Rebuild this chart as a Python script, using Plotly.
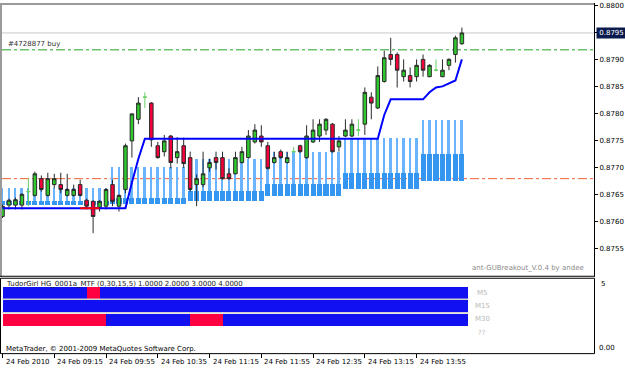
import plotly.graph_objects as go
import pandas as pd

# ---------------- data ----------------
bar_times = pd.date_range("2010-02-24 08:35", periods=72, freq="5min")

opens = [0.87610, 0.87631, 0.87631, 0.87631, 0.87656, 0.87649, 0.87680, 0.87649, 0.87669, 0.87669,
         0.87649, 0.87649, 0.87669, 0.87640, 0.87638, 0.87627, 0.87629, 0.87669, 0.87629, 0.87660,
         0.87750, 0.87790, 0.87831, 0.87820, 0.87741, 0.87730, 0.87759, 0.87719, 0.87741, 0.87719,
         0.87669, 0.87669, 0.87700, 0.87719, 0.87719, 0.87689, 0.87689, 0.87710, 0.87719, 0.87748,
         0.87759, 0.87741, 0.87710, 0.87730, 0.87710, 0.87730, 0.87741, 0.87719, 0.87748, 0.87759,
         0.87770, 0.87781, 0.87739, 0.87759, 0.87759, 0.87770, 0.87781, 0.87831, 0.87811, 0.87860,
         0.87910, 0.87910, 0.87869, 0.87871, 0.87869, 0.87901, 0.87869, 0.87881, 0.87869, 0.87890,
         0.87910, 0.87930]
highs = [0.87632, 0.87643, 0.87645, 0.87653, 0.87680, 0.87693, 0.87686, 0.87691, 0.87689, 0.87691,
         0.87689, 0.87669, 0.87678, 0.87643, 0.87640, 0.87640, 0.87662, 0.87678, 0.87651, 0.87745,
         0.87801, 0.87831, 0.87840, 0.87822, 0.87748, 0.87761, 0.87761, 0.87757, 0.87756, 0.87730,
         0.87688, 0.87730, 0.87717, 0.87730, 0.87730, 0.87699, 0.87730, 0.87739, 0.87770, 0.87781,
         0.87779, 0.87748, 0.87730, 0.87734, 0.87730, 0.87739, 0.87743, 0.87779, 0.87790, 0.87790,
         0.87792, 0.87783, 0.87759, 0.87790, 0.87790, 0.87790, 0.87849, 0.87840, 0.87888, 0.87917,
         0.87941, 0.87914, 0.87901, 0.87886, 0.87901, 0.87910, 0.87892, 0.87901, 0.87901, 0.87903,
         0.87945, 0.87960]
lows = [0.87607, 0.87623, 0.87623, 0.87623, 0.87629, 0.87647, 0.87656, 0.87647, 0.87662, 0.87653,
        0.87647, 0.87647, 0.87647, 0.87623, 0.87579, 0.87619, 0.87623, 0.87629, 0.87619, 0.87653,
        0.87719, 0.87781, 0.87811, 0.87739, 0.87717, 0.87721, 0.87699, 0.87708, 0.87700, 0.87656,
        0.87629, 0.87664, 0.87693, 0.87697, 0.87678, 0.87678, 0.87688, 0.87708, 0.87717, 0.87745,
        0.87739, 0.87697, 0.87708, 0.87717, 0.87708, 0.87728, 0.87728, 0.87717, 0.87746, 0.87748,
        0.87761, 0.87728, 0.87730, 0.87757, 0.87757, 0.87759, 0.87761, 0.87790, 0.87809, 0.87858,
        0.87890, 0.87849, 0.87860, 0.87849, 0.87860, 0.87869, 0.87868, 0.87879, 0.87868, 0.87881,
        0.87895, 0.87928]
closes = [0.87629, 0.87640, 0.87641, 0.87651, 0.87656, 0.87689, 0.87660, 0.87680, 0.87680, 0.87660,
          0.87660, 0.87660, 0.87649, 0.87629, 0.87610, 0.87638, 0.87660, 0.87638, 0.87649, 0.87741,
          0.87800, 0.87820, 0.87831, 0.87752, 0.87719, 0.87750, 0.87710, 0.87730, 0.87708, 0.87660,
          0.87680, 0.87689, 0.87710, 0.87710, 0.87680, 0.87680, 0.87719, 0.87730, 0.87759, 0.87770,
          0.87748, 0.87699, 0.87719, 0.87719, 0.87719, 0.87730, 0.87730, 0.87759, 0.87770, 0.87781,
          0.87790, 0.87730, 0.87750, 0.87770, 0.87781, 0.87770, 0.87840, 0.87820, 0.87871, 0.87904,
          0.87901, 0.87881, 0.87881, 0.87860, 0.87890, 0.87881, 0.87890, 0.87881, 0.87881, 0.87901,
          0.87941, 0.87950]

# breakout line (blue) and its red section
breakout_line = ([0.87625] * 20 + [0.87673, 0.87717] + [0.87754] * 37 + [0.87798] +
                 [0.87827] * 6 + [0.87840, 0.87849, 0.87851, 0.87857, 0.87862, 0.87901])
red_section = [None] * 12 + [0.87625] * 4 + [None] * 56

# level histogram (thin top, block top, block bottom)
hist_top = ([0.87662] * 17 + [0.87702] * 12 + [0.87717] * 12 + [0.87730] * 12 +
            [0.87756] * 12 + [0.87789] * 7)
block_top = ([0.87638] * 17 + [0.87645] * 12 + [0.87658] * 12 + [0.87671] * 12 +
             [0.87691] * 12 + [0.87726] * 7)
block_bot = ([0.87631] * 17 + [0.87634] * 12 + [0.87638] * 12 + [0.87647] * 12 +
             [0.87660] * 12 + [0.87675] * 7)

buy_level = 0.87919
stop_level = 0.87680
bid_level = 0.8795

# MTF indicator states (R = red, B = blue)
m5_state = ["B"] * 13 + ["R"] * 2 + ["B"] * 57
m15_state = ["B"] * 72
m30_state = ["R"] * 16 + ["B"] * 13 + ["R"] * 5 + ["B"] * 38
row_names = ["M5", "M15", "M30", "??"]
row_levels = [4, 3, 2, 1]

price_ticks = [0.8755, 0.8760, 0.8765, 0.8770, 0.8775, 0.8780, 0.8785, 0.8790, 0.8795, 0.8800]
price_tick_text = ["0.8755", "0.8760", "0.8765", "0.8770", "0.8775", "0.8780", "0.8785",
                   "0.8790", "0.8795", "0.8800"]
time_tick_times = ["08:35", "09:15", "09:55", "10:35", "11:15", "11:55", "12:35", "13:15", "13:55"]
time_tick_text = ["24 Feb 2010", "24 Feb 09:15", "24 Feb 09:55", "24 Feb 10:35", "24 Feb 11:15",
                  "24 Feb 11:55", "24 Feb 12:35", "24 Feb 13:15", "24 Feb 13:55"]

# ---------------- figure ----------------
W, H = 625, 369
FONT = "DejaVu Sans"


def px(x):
    return x / W


def py(y):
    return 1 - y / H


idx = list(range(len(opens)))
time_labels = [t.strftime("%H:%M") for t in bar_times]
tick_idx = [time_labels.index(t) for t in time_tick_times]

is_doji = [o == c for o, c in zip(opens, closes)]

GREEN = "#2ec82e"
RED = "#f5003a"
BLUE_BLOCK = "#3596f2"
BLUE_THIN = "#6ab4ff"

fig = go.Figure()

# histogram: thin lines
fig.add_trace(go.Bar(
    x=idx, base=block_bot, y=[t - b for t, b in zip(hist_top, block_bot)],
    width=0.3, marker=dict(color=BLUE_THIN, line=dict(width=0)),
    xaxis="x", yaxis="y", showlegend=False, hoverinfo="skip"))
# histogram: blocks
fig.add_trace(go.Bar(
    x=idx, base=block_bot, y=[t - b for t, b in zip(block_top, block_bot)],
    width=0.78, marker=dict(color=BLUE_BLOCK, line=dict(width=0)),
    xaxis="x", yaxis="y", showlegend=False, hoverinfo="skip"))


def pick(vals, keep):
    return [v if k else None for v, k in zip(vals, keep)]


not_doji = [not d for d in is_doji]
fig.add_trace(go.Candlestick(
    x=idx, open=pick(opens, not_doji), high=pick(highs, not_doji),
    low=pick(lows, not_doji), close=pick(closes, not_doji),
    increasing=dict(fillcolor=GREEN, line=dict(color="#2a2a2a", width=1)),
    decreasing=dict(fillcolor=RED, line=dict(color="#2a2a2a", width=1)),
    whiskerwidth=0, xaxis="x", yaxis="y", showlegend=False, hoverinfo="skip"))
fig.add_trace(go.Candlestick(
    x=idx, open=pick(opens, is_doji), high=pick(highs, is_doji),
    low=pick(lows, is_doji), close=pick(closes, is_doji),
    increasing=dict(fillcolor="#66d066", line=dict(color="#66d066", width=1)),
    decreasing=dict(fillcolor="#66d066", line=dict(color="#66d066", width=1)),
    whiskerwidth=0, xaxis="x", yaxis="y", showlegend=False, hoverinfo="skip"))

# breakout line
fig.add_trace(go.Scatter(x=idx, y=breakout_line, mode="lines",
                         line=dict(color="#0000ff", width=2), xaxis="x", yaxis="y",
                         showlegend=False, hoverinfo="skip"))
fig.add_trace(go.Scatter(x=idx, y=red_section, mode="lines",
                         line=dict(color="#ff0000", width=2), xaxis="x", yaxis="y",
                         showlegend=False, hoverinfo="skip"))

# MTF indicator rows
state_color = {"R": "#ff0040", "B": "#1010f0"}
for states, lvl in zip([m5_state, m15_state, m30_state], row_levels[:3]):
    fig.add_trace(go.Bar(
        x=idx, y=[0.9] * len(idx), base=[lvl - 0.45] * len(idx), width=1, offset=0,
        marker=dict(color=[state_color[s] for s in states], line=dict(width=0)),
        xaxis="x2", yaxis="y2", showlegend=False, hoverinfo="skip"))

xrange_ = [-0.08, 91.42]

annotations = []
for ti, tt in zip(tick_idx, time_tick_text):
    annotations.append(dict(x=ti, xref="x2", y=py(362), yref="paper", text=tt,
                            xanchor="left", yanchor="middle", xshift=1, showarrow=False,
                            font=dict(family=FONT, size=7, color="#000000")))
for name, lvl in zip(row_names, row_levels):
    annotations.append(dict(x=px(482), xref="paper", y=lvl, yref="y2", text=name,
                            xanchor="center", yanchor="middle", showarrow=False,
                            font=dict(family=FONT, size=7, color="#b8b8b8")))
annotations += [
    dict(x=px(6), xref="paper", y=buy_level, yref="y", yshift=6, text="#4728877 buy",
         xanchor="left", yanchor="middle", showarrow=False,
         font=dict(family=FONT, size=7, color="#303030")),
    dict(x=px(586), xref="paper", y=py(267), yref="paper", text="ant-GUBreakout_V.0.4 by andee",
         xanchor="right", yanchor="middle", showarrow=False,
         font=dict(family=FONT, size=7, color="#8a8a8a")),
    dict(x=px(4), xref="paper", y=py(283), yref="paper",
         text="TudorGirl HG_0001a_MTF (0,30,15,5) 1.0000 2.0000 3.0000 4.0000",
         xanchor="left", yanchor="middle", showarrow=False,
         font=dict(family=FONT, size=7, color="#202020")),
    dict(x=px(4), xref="paper", y=py(349), yref="paper",
         text="MetaTrader, © 2001-2009 MetaQuotes Software Corp.",
         xanchor="left", yanchor="middle", showarrow=False,
         font=dict(family=FONT, size=7, color="#000000")),
    dict(x=px(599), xref="paper", y=py(283), yref="paper", text="5",
         xanchor="left", yanchor="middle", showarrow=False,
         font=dict(family=FONT, size=7, color="#000000")),
    dict(x=px(597), xref="paper", y=py(348), yref="paper", text="0.00",
         xanchor="left", yanchor="middle", showarrow=False,
         font=dict(family=FONT, size=7, color="#000000")),
    dict(x=px(596), xref="paper", y=bid_level, yref="y", text="0.8795",
         xanchor="left", yanchor="middle", showarrow=False, bgcolor="#0b1a4e",
         borderpad=1, width=27, font=dict(family=FONT, size=7, color="#ffffff")),
]

shapes = [
    # price levels
    dict(type="line", xref="x domain", x0=0, x1=1, yref="y", y0=bid_level, y1=bid_level,
         line=dict(color="#c8c8c8", width=1), layer="below"),
    dict(type="line", xref="x domain", x0=0, x1=1, yref="y", y0=buy_level, y1=buy_level,
         line=dict(color="#6cbf6c", width=1.5, dash="dashdot"), layer="below"),
    dict(type="line", xref="x domain", x0=0, x1=1, yref="y", y0=stop_level, y1=stop_level,
         line=dict(color="#f06030", width=1, dash="dashdot"), layer="below"),
    # frames
    dict(type="line", xref="paper", yref="paper", x0=px(1), x1=px(1), y0=py(0), y1=py(276),
         line=dict(color="#9a9a9a", width=2)),
    dict(type="line", xref="paper", yref="paper", x0=px(0), x1=px(595), y0=py(1), y1=py(1),
         line=dict(color="#9a9a9a", width=2)),
    dict(type="line", xref="paper", yref="paper", x0=px(594.5), x1=px(594.5), y0=py(0), y1=py(276),
         line=dict(color="#000000", width=1)),
    dict(type="line", xref="paper", yref="paper", x0=px(0), x1=px(595), y0=py(275.5), y1=py(275.5),
         line=dict(color="#000000", width=1)),
    dict(type="rect", xref="paper", yref="paper", x0=px(0.5), x1=px(594.5), y0=py(277.5), y1=py(353.5),
         line=dict(color="#000000", width=1)),
    # light separators between indicator rows
    dict(type="line", xref="x2", yref="y2", x0=0, x1=len(idx), y0=3.5, y1=3.5,
         line=dict(color="#d0d0d0", width=1.5)),
    dict(type="line", xref="x2", yref="y2", x0=0, x1=len(idx), y0=2.5, y1=2.5,
         line=dict(color="#d0d0d0", width=1.5)),
]

fig.update_layout(
    width=W, height=H, margin=dict(l=0, r=0, t=0, b=0),
    paper_bgcolor="#ffffff", plot_bgcolor="#ffffff",
    barmode="overlay", bargap=0, boxgap=0.22,
    showlegend=False,
    xaxis=dict(domain=[px(2), px(594)], range=xrange_, showgrid=False, zeroline=False,
               showticklabels=False, ticks="", rangeslider=dict(visible=False), anchor="y"),
    yaxis=dict(domain=[py(275), py(2)], range=[0.875001, 0.880018], side="right",
               showgrid=False, zeroline=False, tickvals=price_ticks, ticktext=price_tick_text,
               ticks="outside", ticklen=3, tickcolor="#000000", anchor="x",
               ticklabeloverflow="allow",
               tickfont=dict(family=FONT, size=7, color="#000000")),
    xaxis2=dict(domain=[px(2), px(594)], range=xrange_, showgrid=False, zeroline=False,
                tickvals=tick_idx, showticklabels=False, ticks="outside", ticklen=4,
                tickcolor="#000000", anchor="y2", rangeslider=dict(visible=False)),
    yaxis2=dict(domain=[py(353), py(277)], range=[-0.519, 5.111], side="right",
                showgrid=False, zeroline=False, showticklabels=False, ticks="", anchor="x2"),
    annotations=annotations, shapes=shapes,
)

fig.write_html("out.html")
